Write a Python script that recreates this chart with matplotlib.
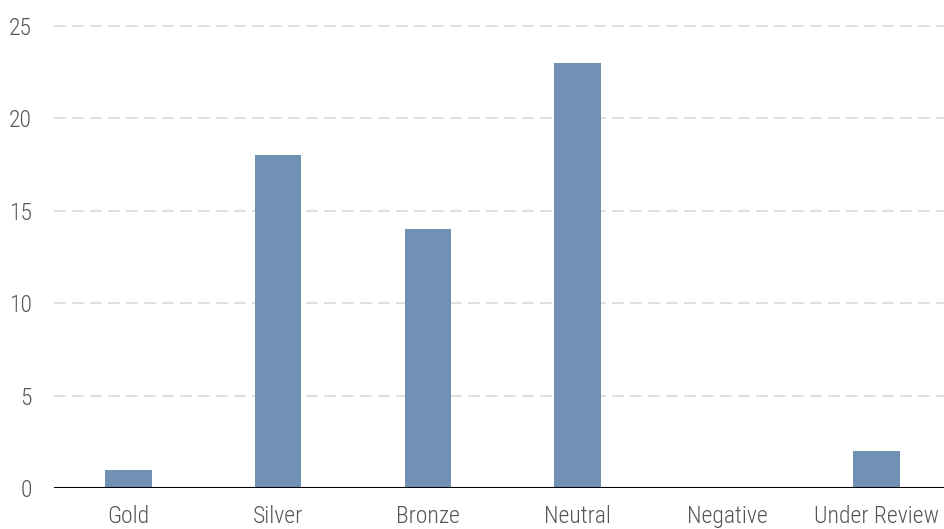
import matplotlib
matplotlib.use("Agg")
import matplotlib.pyplot as plt
from matplotlib import font_manager

# medalist rating counts
ratings = ["Gold", "Silver", "Bronze", "Neutral", "Negative", "Under Review"]
counts = [1, 18, 14, 23, 0, 2]
yticks = [0, 5, 10, 15, 20, 25]

# pick a narrow, light face for the labels
order = {"ultra-condensed": 0, "extra-condensed": 1, "condensed": 2, "semi-condensed": 3}
narrow = [f for f in font_manager.fontManager.ttflist
          if f.stretch in order and f.style == "normal"
          and f.weight in (300, 400, "light", "normal", "regular")]
narrow.sort(key=lambda f: (0 if "Roboto" in f.name else 1,
                           0 if f.weight in (300, "light") else 1,
                           order[f.stretch]))
if narrow:
    face = narrow[0]
    plt.rcParams["font.family"] = [face.name, "DejaVu Sans"]
    plt.rcParams["font.stretch"] = face.stretch
    plt.rcParams["font.weight"] = face.weight
    size = 17
else:
    plt.rcParams["font.family"] = ["DejaVu Sans"]
    size = 13

fig = plt.figure(figsize=(9.44, 5.29), dpi=100)
ax = fig.add_axes([0.057, 0.0775, 0.943, 0.8735])

x = range(len(ratings))
ax.bar(x, counts, width=0.31, color="#7090b4", zorder=3)

ax.set_xlim(-0.5, 5.45)
ax.set_ylim(0, 25)
ax.set_yticks(yticks)
ax.set_xticks(list(x))
ax.set_xticklabels(ratings)

for y in yticks[1:]:
    ax.axhline(y, color="#d9d9d9", lw=1.2, dashes=(7, 3.8), zorder=1, clip_on=False)
ax.axhline(0, color="black", lw=1.5, zorder=4)

for s in ax.spines.values():
    s.set_visible(False)
ax.tick_params(axis="both", length=0, colors="#555555", labelsize=size)
ax.tick_params(axis="y", pad=16)
ax.tick_params(axis="x", pad=12)

fig.savefig("out.png", dpi=100)
